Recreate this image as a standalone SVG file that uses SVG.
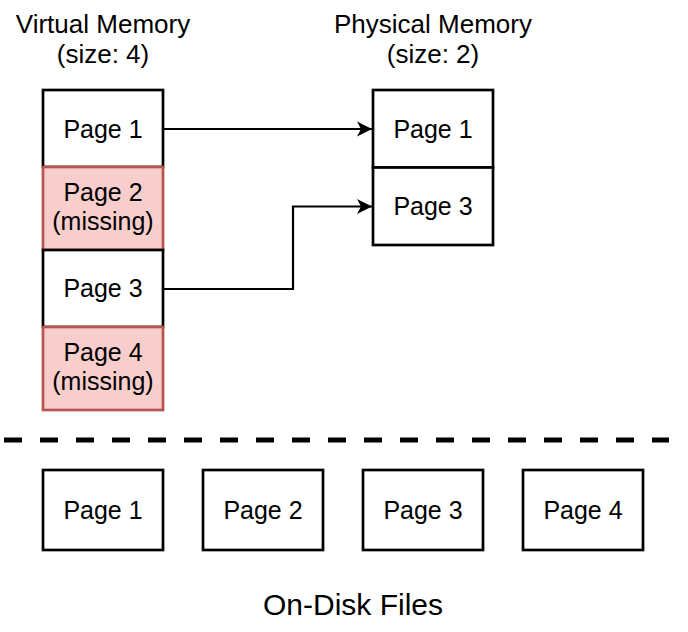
<svg xmlns="http://www.w3.org/2000/svg" width="688" height="632" viewBox="0 0 688 632">
<style>
text{font-family:"Liberation Sans",Arial,sans-serif;fill:#000;text-anchor:middle}
.pg{font-size:25px}
.ttl{font-size:26px}
.box{fill:#fff;stroke:#000;stroke-width:2.7}
.miss{fill:#f8cecc;stroke:#b85450;stroke-width:2.7}
.conn{fill:none;stroke:#000;stroke-width:2.2}
</style>
<defs>
<marker id="arr" markerUnits="userSpaceOnUse" markerWidth="16" markerHeight="16" refX="15" refY="8" orient="auto">
<path d="M15,8 L0,0.5 L4,8 L0,15.5 Z" fill="#000"/>
</marker>
</defs>
<rect width="688" height="632" fill="#fff"/>
<g id="title-virtual">
<text class="ttl" x="103" y="33">Virtual Memory</text>
<text class="ttl" x="103" y="63">(size: 4)</text>
</g>
<g id="title-physical">
<text class="ttl" x="433" y="33">Physical Memory</text>
<text class="ttl" x="433" y="63">(size: 2)</text>
</g>
<g id="v-page1"><rect class="box" x="43" y="90" width="120" height="77"/><text class="pg" x="103" y="137.5">Page 1</text></g>
<g id="v-page2"><rect class="miss" x="43" y="167" width="120" height="83"/><text class="pg" x="103" y="200.5">Page 2</text><text class="pg" x="103" y="230">(missing)</text></g>
<g id="v-page3"><rect class="box" x="43" y="250" width="120" height="77"/><text class="pg" x="103" y="297">Page 3</text></g>
<g id="v-page4"><rect class="miss" x="43" y="327" width="120" height="83"/><text class="pg" x="103" y="360.5">Page 4</text><text class="pg" x="103" y="390">(missing)</text></g>
<g id="p-page1"><rect class="box" x="373" y="90" width="120" height="77.5"/><text class="pg" x="433" y="137.5">Page 1</text></g>
<g id="p-page3"><rect class="box" x="373" y="167.5" width="120" height="77.5"/><text class="pg" x="433" y="215">Page 3</text></g>
<g id="connectors">
<path class="conn" d="M163,129 L372,129" marker-end="url(#arr)"/>
<path class="conn" d="M163,289 L293,289 L293,206.5 L372,206.5" marker-end="url(#arr)"/>
</g>
<g id="separator">
<line x1="4" y1="440" x2="669" y2="440" stroke="#000" stroke-width="5" stroke-dasharray="18 18"/>
</g>
<g id="d-page1"><rect class="box" x="43" y="470" width="120" height="80"/><text class="pg" x="103" y="518.5">Page 1</text></g>
<g id="d-page2"><rect class="box" x="203" y="470" width="120" height="80"/><text class="pg" x="263" y="518.5">Page 2</text></g>
<g id="d-page3"><rect class="box" x="363" y="470" width="120" height="80"/><text class="pg" x="423" y="518.5">Page 3</text></g>
<g id="d-page4"><rect class="box" x="523" y="470" width="120" height="80"/><text class="pg" x="583" y="518.5">Page 4</text></g>
<g id="label-disk"><text x="353" y="615" style="font-size:30px">On-Disk Files</text></g>
</svg>
